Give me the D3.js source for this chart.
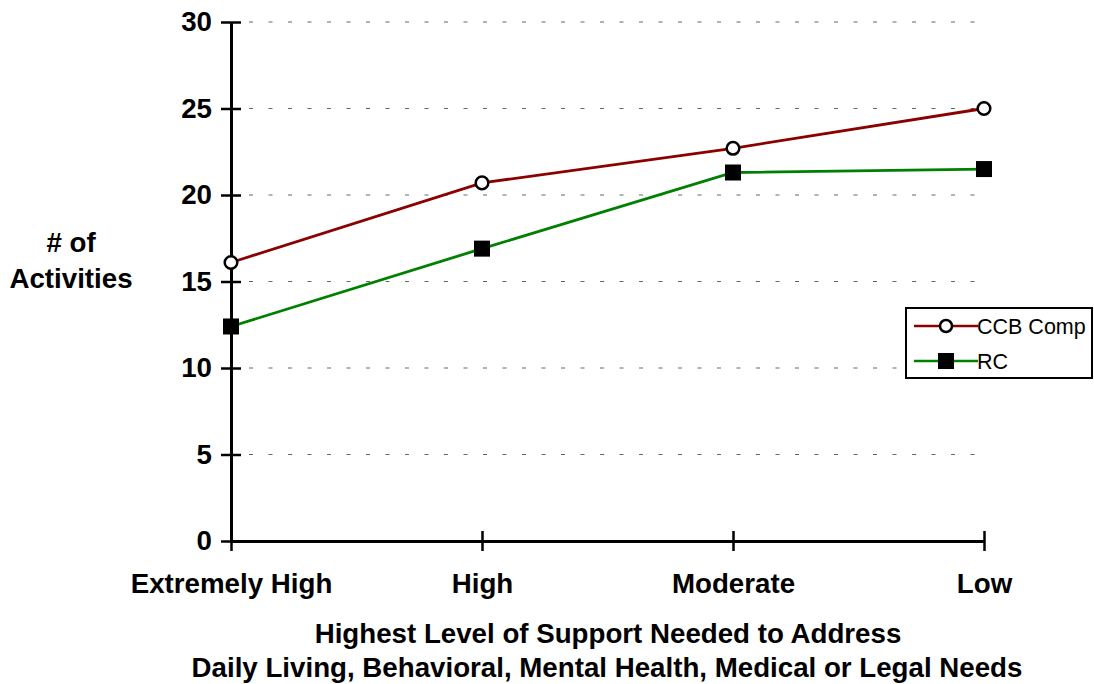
<!DOCTYPE html>
<html>
<head>
<meta charset="utf-8">
<script src="https://cdn.jsdelivr.net/npm/d3@7"></script>
<style>
  body { margin: 0; background: #fff; }
  text { font-family: Arial, "Liberation Sans", sans-serif; }
</style>
</head>
<body>
<script>
const categories = ["Extremely High", "High", "Moderate", "Low"];
const ccbComp = [16.1, 20.7, 22.7, 25.0];
const rc = [12.4, 16.9, 21.3, 21.5];
const yTicks = [0, 5, 10, 15, 20, 25, 30];
const seriesNames = ["CCB Comp", "RC"];

const margin = { top: 22, right: 110, bottom: 143, left: 231 },
      width = 1094 - margin.left - margin.right,
      height = 684 - margin.top - margin.bottom;

const svg = d3.select("body").append("svg")
  .attr("width", 1094)
  .attr("height", 684);

const g = svg.append("g")
  .attr("transform", `translate(${margin.left},${margin.top})`);

const x = d3.scalePoint().domain(categories).range([0, 753]);
const y = d3.scaleLinear().domain([0, 30]).range([height, 0]);

const bigFont = 27.7;

// dashed gridlines
g.selectAll(".grid")
  .data(yTicks.filter(d => d > 0))
  .enter().append("line")
  .attr("x1", 10).attr("x2", x("Low"))
  .attr("y1", d => y(d)).attr("y2", d => y(d))
  .attr("stroke", "#666")
  .attr("stroke-width", 1)
  .attr("stroke-dasharray", "4,15.5")
  .attr("stroke-dashoffset", -8);

// y axis
const yAxis = g.append("g")
  .call(d3.axisLeft(y).tickValues(yTicks).tickSize(0).tickPadding(19));
yAxis.select(".domain").attr("stroke", "#000").attr("stroke-width", 3);
yAxis.selectAll(".tick").append("line")
  .attr("x1", -10).attr("x2", 10)
  .attr("stroke", "#000").attr("stroke-width", 2.5);
yAxis.selectAll("text")
  .style("font-size", bigFont + "px").attr("font-weight", "bold").attr("fill", "#000");

// x axis
const xAxis = g.append("g")
  .attr("transform", `translate(0,${height})`)
  .call(d3.axisBottom(x).tickSize(0).tickPadding(32));
xAxis.select(".domain").attr("stroke", "#000").attr("stroke-width", 3);
xAxis.selectAll(".tick").append("line")
  .attr("y1", -10).attr("y2", 10)
  .attr("stroke", "#000").attr("stroke-width", 2.5);
xAxis.selectAll("text")
  .style("font-size", bigFont + "px").attr("font-weight", "bold").attr("fill", "#000");

// lines
const line = d3.line()
  .x((d, i) => x(categories[i]))
  .y(d => y(d));

g.append("path")
  .datum(rc)
  .attr("fill", "none")
  .attr("stroke", "#008000")
  .attr("stroke-width", 2.8)
  .attr("d", line);

g.append("path")
  .datum(ccbComp)
  .attr("fill", "none")
  .attr("stroke", "#8b0000")
  .attr("stroke-width", 2.8)
  .attr("d", line);

g.selectAll(".sq")
  .data(rc)
  .enter().append("rect")
  .attr("x", (d, i) => x(categories[i]) - 8)
  .attr("y", d => y(d) - 8)
  .attr("width", 16).attr("height", 16)
  .attr("fill", "#000");

g.selectAll(".dot")
  .data(ccbComp)
  .enter().append("circle")
  .attr("cx", (d, i) => x(categories[i]))
  .attr("cy", d => y(d))
  .attr("r", 6.3)
  .attr("fill", "#fff")
  .attr("stroke", "#000")
  .attr("stroke-width", 2.5);

// y title
svg.append("text")
  .attr("x", 71).attr("y", 252)
  .attr("text-anchor", "middle")
  .style("font-size", bigFont + "px").attr("font-weight", "bold")
  .text("# of");
svg.append("text")
  .attr("x", 71).attr("y", 288)
  .attr("text-anchor", "middle")
  .style("font-size", bigFont + "px").attr("font-weight", "bold")
  .text("Activities");

// x title
svg.append("text")
  .attr("x", 608).attr("y", 643)
  .attr("text-anchor", "middle")
  .style("font-size", bigFont + "px").attr("font-weight", "bold")
  .text("Highest Level of Support Needed to Address");
svg.append("text")
  .attr("x", 607).attr("y", 677)
  .attr("text-anchor", "middle")
  .style("font-size", bigFont + "px").attr("font-weight", "bold")
  .text("Daily Living, Behavioral, Mental Health, Medical or Legal Needs");

// legend
const legend = svg.append("g").attr("transform", "translate(906,308)");
legend.append("rect")
  .attr("x", 0).attr("y", 0)
  .attr("width", 186).attr("height", 70)
  .attr("fill", "#fff")
  .attr("stroke", "#000").attr("stroke-width", 2);

const legendItems = legend.selectAll(".legendItem")
  .data(seriesNames)
  .enter().append("g")
  .attr("transform", (d, i) => `translate(0,${18 + i * 35})`);

legendItems.append("line")
  .attr("x1", 8).attr("x2", 72)
  .attr("stroke", (d, i) => i === 0 ? "#8b0000" : "#008000")
  .attr("stroke-width", 2.5);

legendItems.each(function(d, i) {
  const item = d3.select(this);
  if (i === 0) {
    item.append("circle").attr("cx", 40).attr("r", 6)
      .attr("fill", "#fff").attr("stroke", "#000").attr("stroke-width", 2.5);
  } else {
    item.append("rect").attr("x", 32).attr("y", -8)
      .attr("width", 16).attr("height", 16).attr("fill", "#000");
  }
});

legendItems.append("text")
  .attr("x", 71).attr("y", 8)
  .style("font-size", "21.5px")
  .text(d => d);
</script>
</body>
</html>
